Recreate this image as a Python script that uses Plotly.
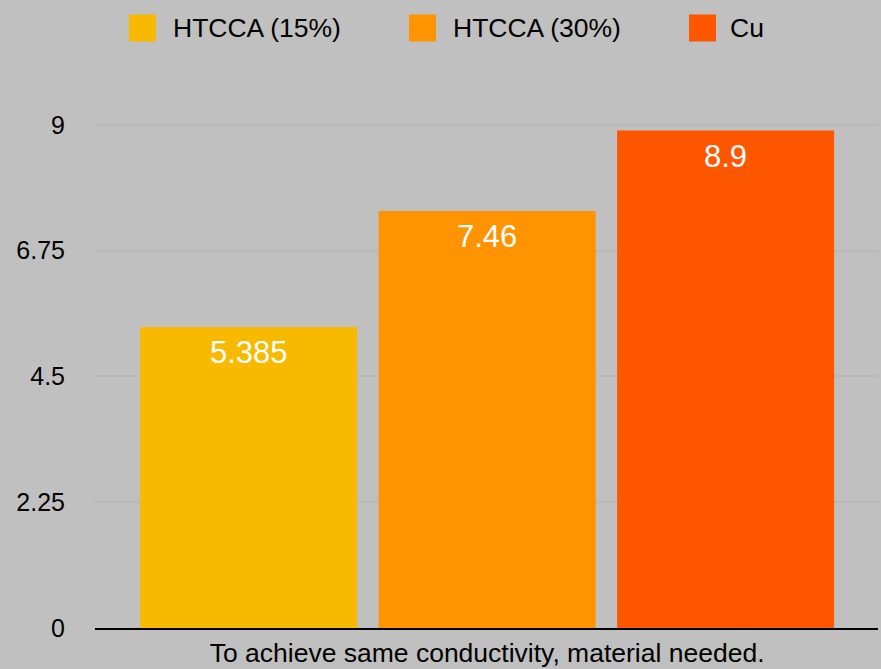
import plotly.graph_objects as go

series_names = ["HTCCA (15%)", "HTCCA (30%)", "Cu"]
values = [5.385, 7.46, 8.9]
value_labels = ["5.385", "7.46", "8.9"]
colors = ["#F7BA00", "#FF9300", "#FF5600"]
category_label = "To achieve same conductivity, material needed."
y_ticks = [0, 2.25, 4.5, 6.75, 9]
y_tick_text = ["0", "2.25", "4.5", "6.75", "9"]

FONT = "Helvetica, Liberation Sans, Arial, sans-serif"
BG = "#C0C0C0"

W, H = 881, 669
L, R, T, B = 95, 3, 102, 41

fig = go.Figure()
positions = list(range(len(values)))
for i, (n, v, c) in enumerate(zip(series_names, values, colors)):
    fig.add_trace(go.Bar(x=[positions[i]], y=[v], name=n, marker=dict(color=c, line=dict(width=0)),
                         width=0.91, showlegend=False, hoverinfo="name+y"))
    fig.add_annotation(x=positions[i], y=v, text=value_labels[i], showarrow=False,
                       xref="x", yref="y", yanchor="middle", yshift=-26,
                       font=dict(family=FONT, size=31, color="white"))

# custom legend (squares + labels)
pw = W - L - R
ph = H - T - B
legend_sq_x = [129, 409, 689]
legend_txt_x = [171, 451, 728]
leg_y = 28
for i, n in enumerate(series_names):
    x0 = legend_sq_x[i]
    fig.add_shape(type="rect", xref="paper", yref="paper",
                  x0=(x0 - L) / pw, x1=(x0 + 27 - L) / pw,
                  y0=(H - B - (leg_y + 13.5)) / ph, y1=(H - B - (leg_y - 13.5)) / ph,
                  fillcolor=colors[i], line=dict(width=0))
    fig.add_annotation(xref="paper", yref="paper", x=(legend_txt_x[i] - L) / pw,
                       y=(H - B - leg_y) / ph, text=n, showarrow=False,
                       xanchor="left", yanchor="middle",
                       font=dict(family=FONT, size=26.5, color="black"))

fig.update_layout(
    width=W, height=H,
    margin=dict(l=L, r=R, t=T, b=B, pad=0, autoexpand=False),
    paper_bgcolor=BG, plot_bgcolor=BG,
    font=dict(family=FONT, size=25, color="black"),
    showlegend=False,
    barmode="overlay",
)
fig.update_xaxes(range=[-0.644, 2.639], tickvals=[1], ticktext=[category_label],
                 automargin=False,
                 showgrid=False, zeroline=False, showline=True, linecolor="black", linewidth=2,
                 ticks="", tickfont=dict(family=FONT, size=26.5, color="black"))
fig.update_yaxes(range=[0, ph / 55.9], tickvals=y_ticks, ticktext=y_tick_text,
                 automargin=False,
                 showgrid=True, gridcolor="#B8B8B8", gridwidth=1.5,
                 zeroline=False, showline=False,
                 ticks="outside", ticklen=24, tickcolor="rgba(0,0,0,0)",
                 tickfont=dict(family=FONT, size=25, color="black"))

fig.write_html("out.html", config={"displayModeBar": False},
               post_script="document.body.style.margin='0';document.body.style.overflow='hidden';")
